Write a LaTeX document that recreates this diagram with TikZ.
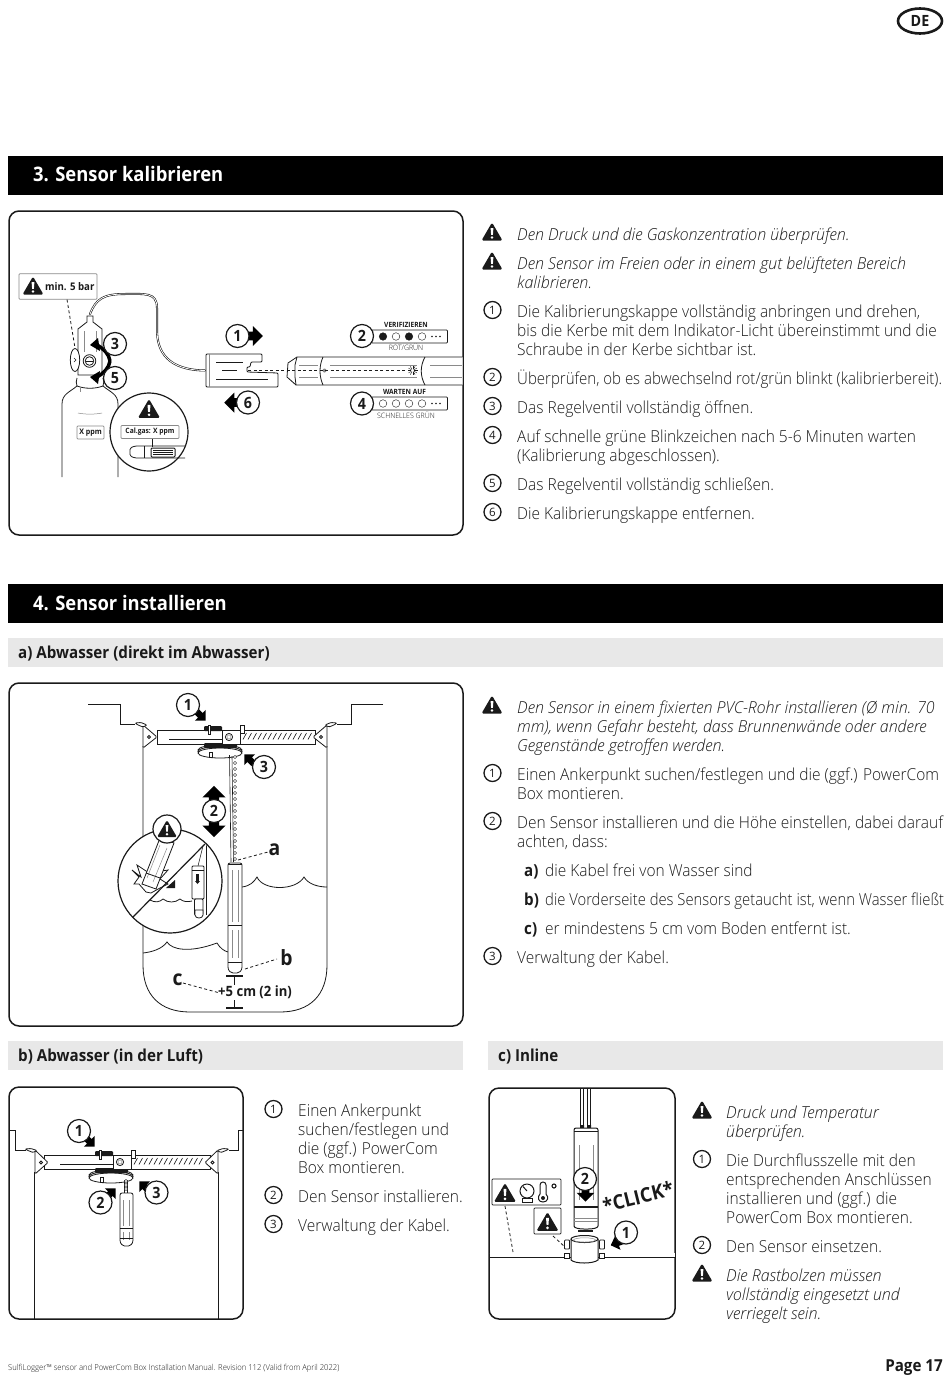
\documentclass[tikz,border=0pt]{standalone}
\usepackage{fontspec}
\usepackage{graphicx}
\usetikzlibrary{shapes.geometric}
\setmainfont{Open Sans Light}[FakeStretch=0.94,ItalicFont={Open Sans Light Italic},ItalicFeatures={FakeStretch=0.97},BoldFont={Open Sans Bold}]
\newfontfamily\boldf{Open Sans Bold}[FakeStretch=0.92]
\newfontfamily\semif{Open Sans}
\definecolor{ink}{HTML}{1A1A1A}
\definecolor{bandgray}{HTML}{E8E8E8}
\definecolor{detail}{HTML}{8A8A8A}
\newcommand\bt[3]{\node[bodytext,yshift=-1pt] (#1) at (#2) {\strut #3};}
\newcommand\itm[3]{\node[bodytext,yshift=-1pt] (#1) at (#2) {\strut\hbox to 21pt{\boldf #3\hfil}};}
\begin{document}
\begin{tikzpicture}[x=1pt,y=-1pt,
 bodytext/.style={anchor=north west,inner sep=0pt,align=left,text=ink,font=\fontsize{16.5}{19}\selectfont},
 headtext/.style={anchor=west,inner sep=0pt,text=white,font=\boldf\fontsize{20}{24}\selectfont},
 subtext/.style={anchor=west,inner sep=0pt,text=ink,font=\boldf\fontsize{16.5}{20}\selectfont},
 panel/.style={draw=ink,line width=1.5pt,rounded corners=10pt,fill=white},
 lnum/.style={circle,draw=ink,line width=1.3pt,fill=white,inner sep=0pt,minimum size=17pt,text=ink,font=\semif\fontsize{11.5}{12}\selectfont},
 bnum/.style={circle,draw=ink,line width=1.2pt,fill=white,inner sep=0pt,minimum size=23pt,text=ink,font=\boldf\fontsize{15.5}{16}\selectfont},
 tag/.style={draw=detail,line width=0.7pt,rounded corners=0.8pt,fill=white,inner sep=0pt},
 ln/.style={draw=ink,line width=0.8pt},
 thin/.style={draw=detail,line width=0.5pt},
 leader/.style={draw=ink,line width=0.8pt,dashed,dash pattern=on 3pt off 2.5pt},
 tiny/.style={inner sep=0pt,text=ink,font=\fontsize{7.4}{8}\selectfont},
 tinyb/.style={inner sep=0pt,text=ink,font=\boldf\fontsize{7.2}{8}\selectfont},
 warn/.pic={\fill[ink,rounded corners=1.5pt] (0,-9.5)--(10.5,8.5)--(-10.5,8.5)--cycle;
   \fill[white] (-1.4,-4)--(1.4,-4)--(0.9,2.8)--(-0.9,2.8)--cycle;
   \fill[white] (0,5.5) circle (1.4);},
 barrow/.pic={\fill[black] (-7,-3.5)--(-1,-3.5)--(-1,-8)--(7,0)--(-1,8)--(-1,3.5)--(-7,3.5)--cycle;},
 clampset/.pic={
   \foreach \d in {0,1.5,3}{\draw[ln,fill=white] (-2,20+\d) ellipse (22 and 5);}
   \fill[ink,rounded corners=1pt] (-18,13) rectangle (15,18);
   \fill[ink,rounded corners=1pt] (-18,-4) rectangle (0,1);
   \draw[ln,fill=white] (-14,-5) rectangle (-12,4);
   \draw[ln,fill=white] (-13,22) rectangle (-10,27);
   \draw[ln,fill=white] (0,0) rectangle (18,14);
   \draw[ln,fill=white] (18,-5) rectangle (22,3);
   \draw[ln] (7,7) circle (3.6);
   \draw[thin] (7,7) circle (2);
   \foreach \h in {21,26,...,86}{\draw[ln,line width=0.6pt] (\h,9.5)--(\h+3.5,3);}
 }]
\useasboundingbox (0,0) rectangle (950,1378);
\fill[white] (0,0) rectangle (950,1378);
% ---- page furniture
\node[draw=ink,line width=2.6pt,ellipse,minimum width=44pt,minimum height=25pt,inner sep=0pt,font=\boldf\fontsize{15.5}{16}\selectfont,text=ink] (lang) at (920,21) {DE};
\fill[black] (8,156) rectangle (943,195);
\node[headtext] (h3) at (33,174.5) {3. Sensor kalibrieren};
\fill[black] (8,584) rectangle (943,623);
\node[headtext] (h4) at (33,603) {4. Sensor installieren};
\fill[bandgray] (8,638) rectangle (943,667);
\node[subtext] (ha) at (18,653.5) {a) Abwasser (direkt im Abwasser)};
\fill[bandgray] (8,1041) rectangle (463,1070);
\node[subtext] (hb) at (18,1056.5) {b) Abwasser (in der Luft)};
\fill[bandgray] (488,1041) rectangle (943,1070);
\node[subtext] (hc) at (498,1056.5) {c) Inline};
\node[anchor=base west,inner sep=0pt,text=ink,font=\fontsize{8.15}{10}\selectfont] (foot) at (8,1370.5) {SulfiLogger™ sensor and PowerCom Box Installation Manual. Revision 112 (Valid from April 2022)};
\node[anchor=base east,inner sep=0pt,text=ink,font=\boldf\fontsize{16.5}{18}\selectfont] (pg) at (943,1371) {Page 17};
% ---- panels
\draw[panel] (9,211) rectangle (463,535);
\draw[panel] (9,683) rectangle (463,1026);
\draw[panel] (9,1087) rectangle (243,1319);
\draw[panel] (489,1088) rectangle (675,1319);
% ---- PANEL 3
% cylinder
\draw[ln] (62,477)--(62,404) .. controls (62,394) and (70,392) .. (77,386) .. controls (76,383) and (76,381) .. (77,378);
\draw[ln] (118,477)--(118,404) .. controls (118,394) and (110,392) .. (103,386) .. controls (104,383) and (104,381) .. (103,378);
\draw[ln] (77,386) .. controls (85,389) and (95,389) .. (103,386);
\draw[thin] (78,413) .. controls (85,414.5) and (95,414.5) .. (102,413);
\draw[thin] (80,388) -- (80,392);
% hose
\draw[draw=ink,line width=2pt,line cap=round] (90,314) .. controls (96,299) and (103,294) .. (125,294) .. controls (145,294) and (157,292) .. (157,308) -- (157,330) .. controls (157,352) and (168,370) .. (205,370.5);
\draw[draw=white,line width=0.8pt,line cap=round] (90,314) .. controls (96,299) and (103,294) .. (125,294) .. controls (145,294) and (157,292) .. (157,308) -- (157,330) .. controls (157,352) and (168,370) .. (205,370.5);
% regulator bottle
\draw[ln,fill=white] (78,375)--(78,329) -- (87,322) -- (87,316) -- (93,316) -- (93,322) -- (102,329) -- (102,375) -- cycle;
\draw[thin] (84,331)--(84,352) (96,331)--(96,352);
\draw[ln,fill=white] (75,360) ellipse (4.7 and 11.5);
\draw[ln,line width=0.5pt] (74,358)--(76,360)--(74,362);
\draw[ln] (89.5,361) circle (6.3);
\draw[ln] (89.5,361) circle (4.3);
\draw[ln] (86,361)--(93,361);
% leader + tag
\node[tag,minimum width=78pt,minimum height=25.5pt] (barbox) at (58,286.5) {};
\pic at (33,286) {warn};
\node[anchor=west,inner sep=0pt,text=ink,font=\boldf\fontsize{10.5}{12}\selectfont] (bartxt) at (45,286.5) {min. 5 bar};
\coordinate (valve) at (75,348);
\draw[leader] (67,299.5)--(valve);
% curved valve arrows
\draw[black,line width=3.5pt] (97,345) .. controls (104,349) and (109,354) .. (110,361);
\draw[black,line width=3.5pt] (97,377) .. controls (104,373) and (109,368) .. (110,361);
\fill[black] (90,345)--(98,338)--(100,351)--cycle;
\fill[black] (90,377)--(98,384)--(100,371)--cycle;
\node[bnum] (n3) at (115,344) {3};
\node[bnum] (n5) at (115,378) {5};
\node[tag,minimum width=27pt,minimum height=13pt] (xppm) at (90.5,432.5) {};
\node[inner sep=0pt,text=ink,font=\boldf\fontsize{7.7}{9}\selectfont] (xppmt) at (90.5,432.5) {X ppm};
% callout
\draw[ln,line width=1.2pt,fill=white] (149,432) circle (39);
\pic[scale=1.05] at (149,409) {warn};
\node[tag,minimum width=58pt,minimum height=13pt] (calbox) at (150,432) {};
\node[inner sep=0pt,text=ink,font=\boldf\fontsize{7.3}{9}\selectfont] (calt) at (150,432) {Cal.gas: X ppm};
\draw[ln] (152,439)--(152,447);
\draw[ln,rounded corners=1.5pt] (185,446)--(135,446)--(130,448)--(130,456)--(135,458)--(185,458);
\draw[ln] (144,446)--(144,458);
\draw[ln,rounded corners=1pt,line width=1pt] (151,448) rectangle (175,457);
\draw[ln] (153,450.5)--(173,450.5) (153,452.5)--(173,452.5) (153,454.5)--(173,454.5);
% cap
\draw[ln,fill=white,rounded corners=1pt] (206,354)--(262,354)--(262,362)--(251,362)--(250,367)--(247,367)--(247,372)--(278,373)--(278,387)--(206,387)--cycle;
\draw[thin] (209,354)--(209,387);
\draw[ln,line width=0.5pt] (216,362)--(243,362) (222,370)--(237,370) (216,379)--(268,379);
% sensor
\draw[ln,fill=white] (462.5,357)--(297,357)--(288,363)--(287,377)--(296,385)--(462.5,385);
\draw[ln] (297,357)--(295,365)--(295,377)--(296,385);
\draw[ln] (323,357) .. controls (319,366) and (319,376) .. (323,385);
\draw[ln] (425,357) .. controls (420,366) and (420,376) .. (425,385);
\draw[thin] (299,365)--(318,365) (299,377)--(318,377) (330,365)--(417,365) (330,377)--(417,377) (430,365)--(462,365) (430,377)--(462,377);
\fill[detail] (324.5,370.5) circle (2);
\foreach \a in {0,30,...,330}{\draw[ink,line width=0.4pt] (412.7,370.5)++(\a:1.3)--++(\a:3.5);}
\coordinate (capslot) at (248,370.5);
\coordinate (senslight) at (407,370.5);
\draw[leader,line width=1pt] (capslot)--(senslight);
% steps
\pic[scale=1.25] at (254,336) {barrow};
\node[bnum] (n1) at (237.5,336) {1};
\pic[rotate=180,scale=1.25] at (233,402.5) {barrow};
\node[bnum] (n6) at (248,402.5) {6};
\node[tag,minimum width=76pt,minimum height=13pt,draw=ink] (led1) at (409.5,336.5) {};
\node[bnum] (n2) at (362,336) {2};
\node[tag,minimum width=76pt,minimum height=13pt,draw=ink] (led2) at (409.5,403.5) {};
\node[bnum] (n4) at (362,403.5) {4};
\foreach \x/\c in {383/ink,396/white,409/ink,422/white}{\draw[ink,line width=0.4pt,fill=\c] (\x,336.5) circle (3.8);\draw[ink,line width=0.4pt,fill=white] (\x,403.5) circle (3.8);}
\foreach \x in {432,436,440}{\fill[ink] (\x,336.5) circle (0.9);\fill[ink] (\x,403.5) circle (0.9);}
\node[tinyb] (ver) at (406,324.5) {VERIFIZIEREN};
\node[tiny] (rot) at (406,347.5) {ROT/GRÜN};
\node[tinyb] (war) at (404.5,392) {WARTEN AUF};
\node[tiny] (sch) at (406,415) {SCHNELLES GRÜN};
% ---- PANEL 4a
\draw[ln] (88,704)--(120,704)--(120,724)--(135,724);
\draw[ln] (383,704)--(351,704)--(351,724)--(337,724);
\draw[ln] (143,746)--(143,965) .. controls (143,995) and (160,1012) .. (190,1012)--(280,1012) .. controls (310,1012) and (327,995) .. (327,965)--(327,746);
% water
\draw[ln] (143,953) .. controls (152,952) and (162,949) .. (167,942) .. controls (172,950) and (190,953) .. (217,943) .. controls (220,948) and (224,951) .. (228,952);
\draw[ln] (242,887) .. controls (250,886) and (254,882) .. (257,877) .. controls (263,891) and (296,891) .. (304,877) .. controls (308,884) and (318,887) .. (327,887);
% bar
\draw[ln,fill=white] (157,730) rectangle (315,744);
\draw[ln] (169,739)--(222,739);
\foreach \sx/\tip in {143/157,327/313}{
 \draw[ln,fill=white,rounded corners=1.2pt] (\sx,748)--(\tip,737)--(\sx,725)--cycle;}
\draw[ln,fill=white,rounded corners=1pt] (135,723) -- (141,722.5)--(147,725)--(143,727)--(138,725)--cycle;
\draw[ln,fill=white,rounded corners=1pt] (337,723) -- (331,722.5)--(325,725)--(329,727)--(334,725)--cycle;
\draw[ln] (149,737) circle (1.5) (321,737) circle (1.5);
\pic at (222,730) {clampset};
% cable and beads
\draw[ln,line width=0.6pt] (229.5,755)--(231,862);
\draw[ln,line width=0.6pt] (232,756)--(233.5,862);
\foreach \yy in {757,763,...,861}{\draw[ink,line width=0.4pt,fill=white] (235,\yy) circle (1.7);}
% sensor 4a
\draw[ln,fill=white,rounded corners=2pt] (228,863)--(242,863)--(242,965) .. controls (242,971) and (239,973) .. (235,973) .. controls (231,973) and (228,971) .. (228,965)--cycle;
\draw[ink,line width=1pt] (228,864)--(242,864);
\draw[thin] (232,870)--(232,922) (238,870)--(238,922) (232,930)--(232,958) (238,930)--(238,958);
\draw[ln,line width=0.5pt] (228,925)--(242,925) (228,962)--(242,962);
% callout 4a
\draw[ln,line width=1.2pt,fill=white] (170,881) circle (52);
\begin{scope}
\clip (170,881) circle (51.3);
\draw[ln,fill=white] (150,900) .. controls (155,903) and (160,902) .. (163,899) .. controls (168,903) and (175,903) .. (180,899) .. controls (183,902) and (188,902) .. (192,901);
\draw[ln] (206,845)--(206,915);
\draw[ln,line width=0.5pt] (198,866)--(203,846);
\end{scope}
\draw[ln,fill=white,rounded corners=1pt] (192,866)--(204,866)--(204,899)--(192,899)--cycle;
\draw[ln,line width=0.5pt] (192,870)--(204,870);
\fill[ink] (196,874) rectangle (199,882);
\fill[ink] (195,881)--(200,881)--(197.5,884)--cycle;
\draw[ln,fill=white,rounded corners=1pt] (194.5,899) rectangle (203,915);
\draw[ln,fill=white] (195,910)--(203,910)--(203,915) .. controls (203,919) and (195,919) .. (195,915)--cycle;
% broken sensor
\draw[ln,fill=white] (132,870)--(141,877)--(137,865)--(149,873)--(168,870)--(160,879)--(168,884)--(160,888)--(151,893)--(146,892)--(139,884)--(134,884)--(139,877)--cycle;
\draw[ln,fill=white] (160,838)--(174,843)--(156,889)--(142,884)--cycle;
\draw[thin] (160,845)--(147,878) (167,848)--(153,882);
\draw[ln] (146,873)--(160,878);
\fill[ink] (166,888)--(175,888)--(175,880)--cycle;
\draw[ln,line width=1.2pt] (133,917)--(205,844);
\node[circle,draw=ink,line width=1.2pt,fill=white,minimum size=28pt,inner sep=0pt] (wc) at (167,829) {};
\pic[scale=0.95] at (167,829) {warn};
% dimension
\node[inner sep=0pt,text=ink,font=\boldf\fontsize{14.2}{15}\selectfont] (dim) at (255,992.5) {+5 cm (2 in)};
\coordinate (t1a) at (226,976); \coordinate (t1b) at (243,976); \coordinate (t1c) at (234.5,976); \coordinate (t1d) at (234.5,985);
\coordinate (t2a) at (226,1008); \coordinate (t2b) at (243,1008); \coordinate (t2c) at (234.5,1008); \coordinate (t2d) at (234.5,1000);
\draw[ink,line width=1.4pt] (t1a)--(t1b) (t1c)--(t1d) (t2a)--(t2b) (t2c)--(t2d);
% labels
\node[inner sep=0pt,text=ink,font=\boldf\fontsize{21}{22}\selectfont] (la) at (274.5,850) {a};
\node[inner sep=0pt,text=ink,font=\boldf\fontsize{21}{22}\selectfont] (lb) at (286.5,958) {b};
\node[inner sep=0pt,text=ink,font=\boldf\fontsize{21}{22}\selectfont] (lc) at (177.5,980) {c};
\coordinate (senstop) at (238,860); \coordinate (sensbot) at (245,969);
\draw[leader] (senstop)--(268,852);
\draw[leader] (sensbot)--(277,959);
\draw[leader] (183,983)--(dim.west);
% steps
\pic[rotate=-45,scale=0.95] at (201,716) {barrow};
\node[bnum] (a1) at (188,705) {1};
\pic[rotate=135,scale=0.95] at (249,759) {barrow};
\node[bnum] (a3) at (264,767) {3};
\pic[rotate=90,scale=1.45] at (214,796) {barrow};
\pic[rotate=-90,scale=1.45] at (214,827) {barrow};
\node[bnum] (a2) at (214,811) {2};
% ---- PANEL 4b
\draw[ln] (9.5,1130)--(15.5,1130)--(15.5,1150)--(26,1150);
\draw[ln] (242.5,1130)--(238,1130)--(238,1150)--(229,1150);
\draw[ln] (34,1172)--(34,1319) (218,1172)--(218,1319);
\draw[ln,fill=white] (44,1155) rectangle (210,1169);
\draw[ln] (60,1164)--(113,1164);
\foreach \sx/\tip in {35/48,218/205}{
 \draw[ln,fill=white,rounded corners=1.2pt] (\sx,1174)--(\tip,1162.5)--(\sx,1150)--cycle;}
\draw[ln,fill=white,rounded corners=1pt] (25,1149)--(31,1148.5)--(37,1150.5)--(33,1152.5)--(28,1150.5)--cycle;
\draw[ln,fill=white,rounded corners=1pt] (229,1149)--(223,1148.5)--(217,1150.5)--(221,1152.5)--(226,1150.5)--cycle;
\draw[ln] (41,1162.5) circle (1.5) (212.5,1162.5) circle (1.5);
\pic at (113,1155) {clampset};
\draw[ln] (124.5,1180)--(124.5,1193) (127.5,1180)--(127.5,1193);
\foreach \yy in {1181,1185,1189}{\draw[ink,line width=0.4pt,fill=white] (126,\yy) circle (1.6);}
\draw[ln,fill=white,rounded corners=2pt] (120,1193)--(133,1193)--(133,1238) .. controls (133,1244) and (130,1246) .. (126.5,1246) .. controls (123,1246) and (120,1244) .. (120,1238)--cycle;
\draw[thin] (123.5,1200)--(123.5,1226) (129.5,1200)--(129.5,1226) (123.5,1232)--(123.5,1240) (129.5,1232)--(129.5,1240);
\draw[ln,line width=0.5pt] (120,1228)--(133,1228) (120,1238)--(133,1238);
\pic[rotate=-45,scale=0.95] at (90,1142) {barrow};
\node[bnum] (b1) at (79,1131) {1};
\pic[rotate=45,scale=0.95] at (111,1193) {barrow};
\node[bnum] (b2) at (100.5,1202.5) {2};
\pic[rotate=135,scale=0.95] at (144,1186) {barrow};
\node[bnum] (b3) at (156.5,1192.5) {3};
% ---- PANEL 4c
\draw[draw=ink,line width=5pt] (489.5,1255)--(674.5,1255);
\draw[draw=white,line width=3.4pt] (489.5,1255)--(674.5,1255);
% cables
\draw[ink,line width=4pt] (582,1088.5)--(582,1128) (589,1088.5)--(589,1128);
\draw[white,line width=2.4pt] (582,1088.5)--(582,1128) (589,1088.5)--(589,1128);
\fill[ink] (580,1125) rectangle (584,1129) (587,1125) rectangle (591,1129);
% sensor 4c
\draw[ln,line width=1pt,fill=white,rounded corners=2pt] (574,1128)--(598,1128)--(598,1224) .. controls (598,1228) and (593,1229) .. (586,1229) .. controls (579,1229) and (574,1228) .. (574,1224)--cycle;
\draw[ink,line width=1pt] (574,1131)--(598,1131);
\draw[thin] (579,1145)--(579,1200) (593,1145)--(593,1200);
\draw[ink,line width=2pt] (574,1207)--(598,1207);
\draw[thin] (574,1218)--(598,1218) (574,1221)--(598,1221);
\draw[ink,line width=1.5pt] (578,1231)--(593,1231);
% coupling
\foreach \bx in {567,602}{\draw[ln,fill=white,rounded corners=0.8pt] (\bx-2.5,1240) rectangle (\bx+2.5,1249);
 \draw[ln,fill=white] (\bx-2.5,1253) rectangle (\bx+2.5,1258);}
\draw[ln,line width=1pt,fill=white] (571,1239)--(571,1260) .. controls (575,1264) and (593,1264) .. (598,1260)--(598,1239);
\draw[ln,line width=1pt,fill=white] (584.5,1239) ellipse (13.5 and 3.5);
\draw[thin] (584.5,1240) ellipse (11 and 2.2);
% warnings
\node[tag,draw=ink,minimum width=69pt,minimum height=26pt] (cb1) at (526.5,1192) {};
\pic[scale=1.05] at (505,1193) {warn};
\draw[ink,line width=1pt] (527,1191) circle (7);
\draw[ink,line width=0.8pt,fill=white] (522,1198) rectangle (532,1202);
\draw[ink,line width=1pt] (527,1191)--(523,1186.5);
\draw[ink,line width=1pt,fill=white] (540,1185)--(540,1194) .. controls (537,1197) and (538,1202) .. (543,1202) .. controls (548,1202) and (549,1197) .. (546,1194)--(546,1185) .. controls (546,1181) and (540,1181) .. (540,1185);
\fill[ink] (543,1198) circle (2);
\draw[ink,line width=1.1pt] (554,1186) circle (2);
\node[tag,draw=ink,minimum width=27pt,minimum height=26pt] (cb2) at (547.5,1221) {};
\pic[scale=1.05] at (547.5,1222) {warn};
\coordinate (pipepoint) at (513,1252); \coordinate (couplepoint) at (565,1247);
\draw[leader] (505,1206)--(pipepoint);
\draw[leader] (553,1236)--(couplepoint);
% steps
\pic[rotate=-90,scale=1.1] at (585.5,1194) {barrow};
\node[bnum] (c2) at (585,1179) {2};
\pic[rotate=200,scale=0.95] at (617,1243) {barrow};
\node[bnum] (c1) at (626,1232.5) {1};
\node[rotate=14,inner sep=0pt,text=ink,font=\boldf\fontsize{20}{22}\selectfont] (click) at (638,1197) {*CLICK*};
% ---- TEXT section 3
\pic at (492,232) {warn};
\bt{t1}{517,226}{\itshape Den Druck und die Gaskonzentration überprüfen.}
\pic at (492,261) {warn};
\bt{t2}{517,255}{\itshape Den Sensor im Freien oder in einem gut belüfteten Bereich\\\itshape kalibrieren.}
\node[lnum] (k1) at (492.5,310) {1};
\bt{t3}{517,303}{Die Kalibrierungskappe vollständig anbringen und drehen,\\bis die Kerbe mit dem Indikator-Licht übereinstimmt und die\\Schraube in der Kerbe sichtbar ist.}
\node[lnum] (k2) at (492.5,377) {2};
\bt{t4}{517,369}{\scalebox{0.968}[1]{Überprüfen, ob es abwechselnd rot/grün blinkt (kalibrierbereit).}}
\node[lnum] (k3) at (492.5,406) {3};
\bt{t5}{517,399}{Das Regelventil vollständig öffnen.}
\node[lnum] (k4) at (492.5,435) {4};
\bt{t6}{517,428}{Auf schnelle grüne Blinkzeichen nach 5-6 Minuten warten\\(Kalibrierung abgeschlossen).}
\node[lnum] (k5) at (492.5,483) {5};
\bt{t7}{517,476}{Das Regelventil vollständig schließen.}
\node[lnum] (k6) at (492.5,512) {6};
\bt{t8}{517,505}{Die Kalibrierungskappe entfernen.}
% ---- TEXT 4a
\pic at (492,705) {warn};
\bt{u1}{517,699}{\itshape Den Sensor in einem fixierten PVC-Rohr installieren (Ø min. 70\\\itshape mm), wenn Gefahr besteht, dass Brunnenwände oder andere\\\itshape Gegenstände getroffen werden.}
\node[lnum] (w1) at (492.5,773) {1};
\bt{u2}{517,766}{Einen Ankerpunkt suchen/festlegen und die (ggf.) PowerCom\\Box montieren.}
\node[lnum] (w2) at (492.5,821) {2};
\bt{u3}{517,814}{Den Sensor installieren und die Höhe einstellen, dabei darauf\\achten, dass:}
\itm{ia}{524,862}{a)}
\bt{ua}{545,862}{die Kabel frei von Wasser sind}
\itm{ib}{524,891}{b)}
\bt{ub}{545,891}{\scalebox{0.955}[1]{die Vorderseite des Sensors getaucht ist, wenn Wasser fließt}}
\itm{ic}{524,920}{c)}
\bt{uc}{545,920}{er mindestens 5 cm vom Boden entfernt ist.}
\node[lnum] (w3) at (492.5,956) {3};
\bt{u4}{517,949}{Verwaltung der Kabel.}
% ---- TEXT 4b
\node[lnum] (x1) at (273.5,1109) {1};
\bt{v1}{298,1102}{Einen Ankerpunkt\\suchen/festlegen und\\die (ggf.) PowerCom\\Box montieren.}
\node[lnum] (x2) at (273.5,1195) {2};
\bt{v2}{298,1188}{Den Sensor installieren.}
\node[lnum] (x3) at (273.5,1224) {3};
\bt{v3}{298,1217}{Verwaltung der Kabel.}
% ---- TEXT 4c
\pic at (702,1110) {warn};
\bt{y1}{726,1104}{\itshape Druck und Temperatur\\\itshape überprüfen.}
\node[lnum] (z1) at (702,1159) {1};
\bt{y2}{726,1152}{Die Durchflusszelle mit den\\entsprechenden Anschlüssen\\installieren und (ggf.) die\\PowerCom Box montieren.}
\node[lnum] (z2) at (702,1245) {2};
\bt{y3}{726,1238}{Den Sensor einsetzen.}
\pic at (702,1273) {warn};
\bt{y4}{726,1267}{\itshape Die Rastbolzen müssen\\\itshape vollständig eingesetzt und\\\itshape verriegelt sein.}
\end{tikzpicture}
\end{document}
